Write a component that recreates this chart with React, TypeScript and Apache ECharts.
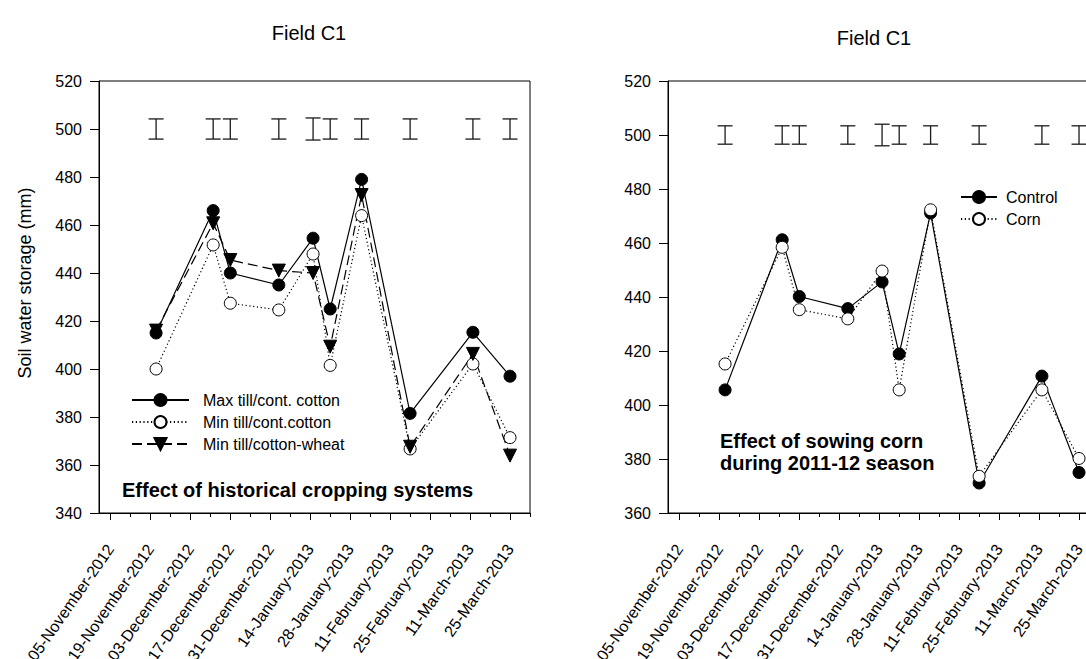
import React, { useEffect, useRef } from 'react';
import * as echarts from 'echarts';

// ---- data ----
const sampleDates = ['2012-11-21', '2012-12-11', '2012-12-17', '2013-01-03', '2013-01-15', '2013-01-21', '2013-02-01', '2013-02-18', '2013-03-12', '2013-03-25'];

// Left panel: effect of historical cropping systems
const maxTillCont = [415, 466, 440, 435, 454.5, 425, 479, 381.5, 415.3, 397];
const minTillCont = [400, 451.7, 427.4, 424.6, 447.9, 401.5, 463.9, 366.7, 402.1, 371.4];
const minTillWheat = [416, 460.7, 445.4, 441, 440, 409.3, 472.5, 367.6, 406.3, 363.9];
const lsdLeftHalf = [4.2, 4.2, 4.2, 4.2, 4.6, 4.2, 4.2, 4.2, 4.2, 4.2];

// Right panel: effect of sowing corn
const control = [405.6, 461.2, 440.2, 435.7, 445.6, 418.9, 471.1, 371.1, 410.7, 375];
const corn = [415.2, 458.4, 435.3, 431.9, 449.6, 405.6, 472.3, 373.6, 405.6, 380.2];
const lsdRightHalf = [3.4, 3.4, 3.4, 3.4, 4.0, 3.4, 3.4, 3.4, 3.4, 3.4];

const lsdCenter = 500;

const tickLabels = ['05-November-2012', '19-November-2012', '03-December-2012', '17-December-2012', '31-December-2012', '14-January-2013', '28-January-2013', '11-February-2013', '25-February-2013', '11-March-2013', '25-March-2013'];
const minorTickDates = ['2012-11-12', '2012-11-26', '2012-12-10', '2012-12-24', '2013-01-07', '2013-01-21', '2013-02-04', '2013-02-18', '2013-03-04', '2013-03-18', '2013-04-01'];
const axisStartDate = '2012-11-01';
const axisEndDate = '2013-04-01';

const monthNames = ['January', 'February', 'March', 'April', 'May', 'June', 'July', 'August', 'September', 'October', 'November', 'December'];

const ORIGIN = Date.UTC(2012, 10, 5);
const DAY = 86400000;
const isoToDay = (s: string) => {
  const [y, m, d] = s.split('-').map(Number);
  return Math.round((Date.UTC(y, m - 1, d) - ORIGIN) / DAY);
};
const labelToDay = (s: string) => {
  const [d, mon, y] = s.split('-');
  return Math.round((Date.UTC(Number(y), monthNames.indexOf(mon), Number(d)) - ORIGIN) / DAY);
};
const dayToLabel = (v: number) => {
  const dt = new Date(ORIGIN + Math.round(v) * DAY);
  const dd = String(dt.getUTCDate()).padStart(2, '0');
  return `${dd}-${monthNames[dt.getUTCMonth()]}-${dt.getUTCFullYear()}`;
};

const majorDays = tickLabels.map(labelToDay);
const minorDays = minorTickDates.map(isoToDay);
const xMin = isoToDay(axisStartDate);
const xMax = isoToDay(axisEndDate);
const sampleDays = sampleDates.map(isoToDay);

const FONT = '"Liberation Sans", Arial, Helvetica, sans-serif';

const App: React.FC = () => {
  const ref = useRef<HTMLDivElement>(null);

  useEffect(() => {
    if (!ref.current) return;
    const chart = echarts.init(ref.current, undefined, { renderer: 'svg' });

    const pairs = (vals: number[]) => vals.map((v, i) => [sampleDays[i], v]);
    const errData = (halves: number[]) => halves.map((h, i) => [sampleDays[i], lsdCenter, h]);

    const renderErr = (params: any, api: any) => {
      const x = api.value(0);
      const c = api.value(1);
      const h = api.value(2);
      const top = api.coord([x, c + h]);
      const bot = api.coord([x, c - h]);
      const w = 7.5;
      const st = { stroke: '#1a1a1a', lineWidth: 1.3, fill: 'none' };
      return {
        type: 'group',
        children: [
          { type: 'line', shape: { x1: top[0], y1: top[1], x2: bot[0], y2: bot[1] }, style: st },
          { type: 'line', shape: { x1: top[0] - w, y1: top[1], x2: top[0] + w, y2: top[1] }, style: st },
          { type: 'line', shape: { x1: bot[0] - w, y1: bot[1], x2: bot[0] + w, y2: bot[1] }, style: st },
        ],
      };
    };

    const mainX = (gridIndex: number) => ({
      type: 'value',
      gridIndex,
      min: xMin,
      max: xMax,
      position: 'bottom',
      axisLine: { show: true, onZero: false, lineStyle: { color: '#000', width: 1 } },
      axisTick: { show: true, customValues: majorDays, length: 7, lineStyle: { color: '#000', width: 1 } },
      axisLabel: {
        show: true,
        customValues: majorDays,
        formatter: (v: number) => dayToLabel(v),
        rotate: 55,
        margin: 33,
        fontSize: 16,
        color: '#000',
        fontFamily: FONT,
      },
      splitLine: { show: false },
    });
    const minorX = (gridIndex: number) => ({
      type: 'value',
      gridIndex,
      min: xMin,
      max: xMax,
      position: 'bottom',
      axisLine: { show: false, onZero: false },
      axisTick: { show: true, customValues: minorDays, length: 4, lineStyle: { color: '#000', width: 1 } },
      axisLabel: { show: false },
      splitLine: { show: false },
    });
    const yAx = (gridIndex: number, min: number) => ({
      type: 'value',
      gridIndex,
      min,
      max: 520,
      interval: 20,
      axisLine: { show: true, onZero: false, lineStyle: { color: '#000', width: 1 } },
      axisTick: { show: true, length: 9, lineStyle: { color: '#000', width: 1 } },
      axisLabel: { show: true, margin: 17, fontSize: 16, color: '#000', fontFamily: FONT },
      splitLine: { show: false },
    });

    const lineBase = {
      type: 'line',
      symbolSize: 12,
      z: 3,
    };

    const gridBase = {
      top: 81,
      width: 431,
      height: 432,
      show: true,
      borderColor: '#000',
      borderWidth: 1,
      backgroundColor: 'transparent',
      containLabel: false,
      outerBoundsMode: 'none',
    };

    chart.setOption({
      animation: false,
      backgroundColor: '#fff',
      textStyle: { fontFamily: FONT },
      grid: [
        { ...gridBase, left: 99 },
        { ...gridBase, left: 668 },
      ],
      xAxis: [mainX(0), minorX(0), mainX(1), minorX(1)],
      yAxis: [yAx(0, 340), yAx(1, 360)],
      legend: [
        {
          data: ['Max till/cont. cotton', 'Min till/cont.cotton', 'Min till/cotton-wheat'],
          orient: 'vertical',
          left: 131,
          top: 392,
          itemWidth: 57,
          itemHeight: 15,
          itemGap: 6,
          padding: 0,
          selectedMode: false,
          textStyle: { fontSize: 16, color: '#000', fontFamily: FONT, padding: [0, 0, 0, 9] },
        },
        {
          data: ['Control', 'Corn'],
          orient: 'vertical',
          left: 960,
          top: 189,
          itemWidth: 36,
          itemHeight: 15,
          itemGap: 6,
          padding: 0,
          selectedMode: false,
          textStyle: { fontSize: 16, color: '#000', fontFamily: FONT, padding: [0, 0, 0, 4] },
        },
      ],
      graphic: [
        { type: 'text', x: 309, y: 33, style: { text: 'Field C1', fontSize: 20, fontFamily: FONT, fill: '#000', align: 'center', verticalAlign: 'middle' } },
        { type: 'text', x: 874, y: 38, style: { text: 'Field C1', fontSize: 20, fontFamily: FONT, fill: '#000', align: 'center', verticalAlign: 'middle' } },
        { type: 'text', x: 25, y: 283, rotation: Math.PI / 2, style: { text: 'Soil water storage (mm)', fontSize: 18, fontFamily: FONT, fill: '#000', align: 'center', verticalAlign: 'middle' } },
        { type: 'text', x: 122, y: 490, style: { text: 'Effect of historical cropping systems', fontSize: 20, fontWeight: 'bold', fontFamily: FONT, fill: '#000', align: 'left', verticalAlign: 'middle' } },
        { type: 'text', x: 720, y: 441, style: { text: 'Effect of sowing corn', fontSize: 20, fontWeight: 'bold', fontFamily: FONT, fill: '#000', align: 'left', verticalAlign: 'middle' } },
        { type: 'text', x: 720, y: 463, style: { text: 'during 2011-12 season', fontSize: 20, fontWeight: 'bold', fontFamily: FONT, fill: '#000', align: 'left', verticalAlign: 'middle' } },
      ],
      series: [
        {
          ...lineBase,
          name: 'Max till/cont. cotton',
          xAxisIndex: 0,
          yAxisIndex: 0,
          data: pairs(maxTillCont),
          symbol: 'circle',
          itemStyle: { color: '#000', borderColor: '#000', borderWidth: 1 },
          lineStyle: { color: '#000', width: 1.2, type: 'solid' },
        },
        {
          ...lineBase,
          name: 'Min till/cont.cotton',
          xAxisIndex: 0,
          yAxisIndex: 0,
          data: pairs(minTillCont),
          symbol: 'circle',
          itemStyle: { color: '#fff', borderColor: '#000', borderWidth: 1 },
          lineStyle: { color: '#000', width: 1.2, type: [1.2, 2.6] },
        },
        {
          ...lineBase,
          name: 'Min till/cotton-wheat',
          xAxisIndex: 0,
          yAxisIndex: 0,
          data: pairs(minTillWheat),
          symbol: 'triangle',
          symbolRotate: 180,
          symbolSize: 13,
          itemStyle: { color: '#000', borderColor: '#000', borderWidth: 1 },
          lineStyle: { color: '#000', width: 1.2, type: [10, 5] },
        },
        {
          type: 'custom',
          name: 'lsd-left',
          xAxisIndex: 0,
          yAxisIndex: 0,
          renderItem: renderErr,
          encode: { x: 0, y: 1 },
          data: errData(lsdLeftHalf),
          silent: true,
          z: 2,
        },
        {
          ...lineBase,
          name: 'Control',
          xAxisIndex: 2,
          yAxisIndex: 1,
          data: pairs(control),
          symbol: 'circle',
          itemStyle: { color: '#000', borderColor: '#000', borderWidth: 1 },
          lineStyle: { color: '#000', width: 1.2, type: 'solid' },
        },
        {
          ...lineBase,
          name: 'Corn',
          xAxisIndex: 2,
          yAxisIndex: 1,
          data: pairs(corn),
          symbol: 'circle',
          itemStyle: { color: '#fff', borderColor: '#000', borderWidth: 1 },
          lineStyle: { color: '#000', width: 1.2, type: [1.2, 2.6] },
        },
        {
          type: 'custom',
          name: 'lsd-right',
          xAxisIndex: 2,
          yAxisIndex: 1,
          renderItem: renderErr,
          encode: { x: 0, y: 1 },
          data: errData(lsdRightHalf),
          silent: true,
          z: 2,
        },
      ],
    });

    return () => chart.dispose();
  }, []);

  return (
    <div style={{ position: 'absolute', left: 0, top: 0, width: 1086, height: 659, overflow: 'hidden', background: '#fff' }}>
      <div ref={ref} style={{ width: 1110, height: 659 }} />
    </div>
  );
};

export default App;
